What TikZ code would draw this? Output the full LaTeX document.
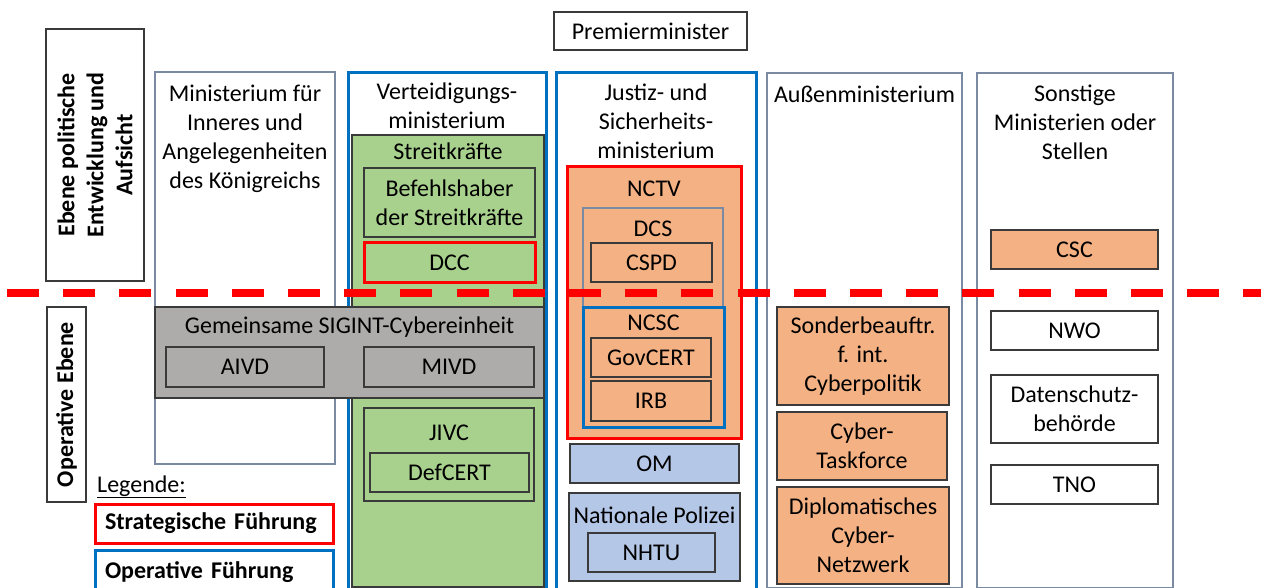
\documentclass[tikz,border=0pt]{standalone}
\usepackage{fontspec}
\setmainfont{Carlito}
\usepackage{tikz}
\usetikzlibrary{positioning}

\definecolor{leadred}{HTML}{FF0000}
\definecolor{leadblue}{HTML}{0070C0}
\definecolor{colframe}{HTML}{7A8AA3}
\definecolor{unitframe}{HTML}{3A3A3A}
\definecolor{armygreen}{HTML}{A9D18E}
\definecolor{unitorange}{HTML}{F4B183}
\definecolor{sigintgray}{HTML}{AEABAB}
\definecolor{policeblue}{HTML}{B4C7E7}

\begin{document}
\begin{tikzpicture}[x=1pt,y=-1pt,
  every node/.style={font=\fontsize{24}{29}\selectfont, inner sep=0pt, align=center},
  column/.style={draw=colframe, line width=1.5pt, fill=white},
  ministry/.style={draw=leadblue, line width=3pt, fill=white},
  unit/.style={draw=unitframe, line width=1.5pt},
  strategic/.style={draw=leadred, line width=3pt},
  operative/.style={draw=leadblue, line width=3pt},
  levelbox/.style={draw=unitframe, line width=1.5pt, rotate=90, font=\fontsize{24}{29}\selectfont\bfseries},
  title/.style={text height=17pt, text depth=5pt},
  legendbox/.style={line width=3pt, inner xsep=10pt, align=left, font=\fontsize{24}{29}\selectfont\bfseries},
  cutline/.style={draw=leadred, line width=8pt, dash pattern=on 32pt off 24.2pt}]
\clip (0,0) rectangle (1261,588);
%%
  % Node: Premierminister
  \node[unit, minimum width=193, minimum height=38] (pm) at (650.5,31) {Premierminister};
  % Node: levels
  \node[levelbox, minimum width=252, minimum height=98] (polebene) at (95,155) {Ebene politische\\Entwicklung und\\Aufsicht};
  \node[levelbox, minimum width=195, minimum height=39] (opebene) at (66.5,404.5) {Operative Ebene};
  % Node: ministries
  \node[column, minimum width=180, minimum height=392] (inneres) at (245,268) {};
  \node[ministry, minimum width=198, minimum height=540] (verteidigung) at (447,343) {};
  \node[ministry, minimum width=200, minimum height=540] (justiz) at (656,343) {};
  \node[column, minimum width=195, minimum height=515] (aussen) at (864.5,330.5) {};
  \node[column, minimum width=196, minimum height=515] (sonstige) at (1075,330.5) {};
  \node[below=14pt of inneres.north] {Ministerium für\\Inneres und\\Angelegenheiten\\des Königreichs};
  \node[below=11pt of verteidigung.north] {Verteidigungs-\\ministerium};
  \node[below=12pt of justiz.north] {Justiz- und\\Sicherheits-\\ministerium};
  \node[below=14pt of aussen.north] {Außenministerium};
  \node[below=12pt of sonstige.north] {Sonstige\\Ministerien oder\\Stellen};
  % Node: Verteidigung
  \node[unit, fill=armygreen, minimum width=192, minimum height=452] (streitkraefte) at (448,361) {};
  \node[title, below=8pt of streitkraefte.north] {Streitkräfte};
  \node[unit, fill=armygreen, minimum width=171, minimum height=69] (befehlshaber) at (449.5,202.5) {Befehlshaber\\der Streitkräfte};
  \node[strategic, fill=armygreen, minimum width=171, minimum height=39] (dcc) at (449.5,262.5) {DCC};
  % Node: Justiz
  \node[strategic, fill=unitorange, minimum width=174, minimum height=271] (nctv) at (654,302.5) {};
  \node[title, below=14pt of nctv.north] {NCTV};
  \node[draw=colframe, line width=1.5pt, fill=unitorange, minimum width=140, minimum height=99] (dcs) at (653,257.5) {};
  \node[title, below=12pt of dcs.north] {DCS};
  \node[unit, fill=unitorange, minimum width=121, minimum height=39] (cspd) at (651.5,262.5) {CSPD};
  \node[operative, fill=unitorange, minimum width=141, minimum height=120] (ncsc) at (653.5,367) {};
  \node[title, below=8pt of ncsc.north] {NCSC};
  \node[unit, fill=unitorange, minimum width=120, minimum height=39] (govcert) at (651,357.5) {GovCERT};
  \node[unit, fill=unitorange, minimum width=120, minimum height=40] (irb) at (651,401) {IRB};
  \node[unit, fill=policeblue, minimum width=169, minimum height=39] (om) at (654.5,463.5) {OM};
  \node[unit, fill=policeblue, minimum width=171, minimum height=88] (polizei) at (654.5,537) {};
  \node[title, below=14pt of polizei.north] {Nationale Polizei};
  \node[unit, fill=policeblue, minimum width=127, minimum height=39] (nhtu) at (651.5,552.5) {NHTU};
  % Node: SIGINT
  \node[unit, fill=sigintgray, minimum width=389, minimum height=91] (sigint) at (349.5,352.5) {};
  \node[title, below=10pt of sigint.north] {Gemeinsame SIGINT-Cybereinheit};
  \node[unit, fill=sigintgray, minimum width=158, minimum height=40] (aivd) at (245,367) {AIVD};
  \node[unit, fill=sigintgray, minimum width=170, minimum height=40] (mivd) at (449,367) {MIVD};
  \node[unit, fill=armygreen, minimum width=170, minimum height=93] (jivc) at (449,454.5) {};
  \node[title, below=16pt of jivc.north] {JIVC};
  \node[unit, fill=armygreen, minimum width=159, minimum height=39] (defcert) at (449.5,472.5) {DefCERT};
  % Node: Aussen
  \node[unit, fill=unitorange, minimum width=172, minimum height=98] (sonder) at (863,356) {Sonderbeauftr.\\f. int.\\Cyberpolitik};
  \node[unit, fill=unitorange, minimum width=170, minimum height=68] (taskforce) at (862,446) {Cyber-\\Taskforce};
  \node[unit, fill=unitorange, minimum width=172, minimum height=97] (diplo) at (863,535.5) {Diplomatisches\\Cyber-\\Netzwerk};
  % Node: Sonstige
  \node[unit, fill=unitorange, minimum width=167, minimum height=39] (csc) at (1074.5,249.5) {CSC};
  \node[unit, fill=white, minimum width=167, minimum height=39] (nwo) at (1074.5,330.5) {NWO};
  \node[unit, fill=white, minimum width=167, minimum height=68] (datenschutz) at (1074.5,409) {Datenschutz-\\behörde};
  \node[unit, fill=white, minimum width=167, minimum height=39] (tno) at (1074.5,484.5) {TNO};
  % Node: legend
  \node[anchor=base west] (legende) at (97,492) {\underline{Legende:}};
  \node[legendbox, draw=leadred, fill=white, minimum width=238, minimum height=39, text width=218pt] (legstrat) at (214,523.5) {Strategische Führung};
  \node[legendbox, draw=leadblue, fill=white, minimum width=238, minimum height=45, text width=218pt] (legop) at (214,572.5) {Operative Führung};
  % Edge: level cut
  \draw[cutline] (7,293) -- (1261,293);
%
\end{tikzpicture}
\end{document}
